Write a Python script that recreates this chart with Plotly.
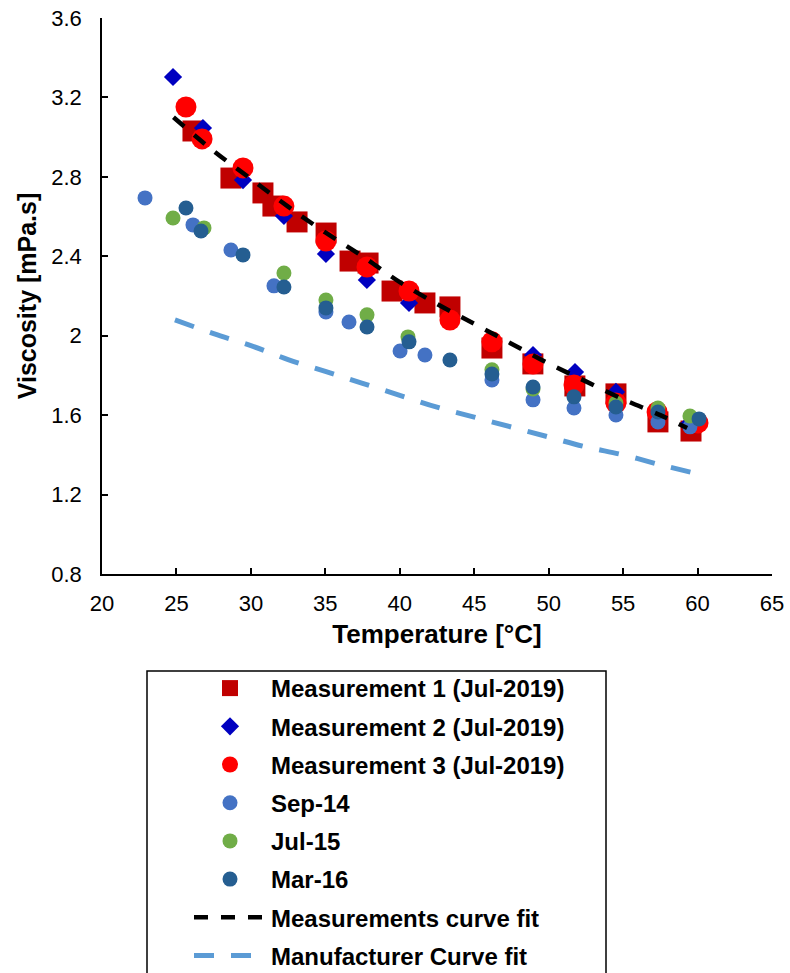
import plotly.graph_objects as go

# ---------------- data ----------------
m1_t = [26.11, 28.66, 30.81, 31.48, 33.10, 35.05, 36.66, 37.87, 39.48, 41.69, 43.37, 46.19, 48.94, 51.76, 54.52, 57.34, 59.56]
m1_v = [3.031, 2.794, 2.719, 2.653, 2.573, 2.517, 2.376, 2.366, 2.225, 2.165, 2.145, 1.938, 1.858, 1.747, 1.707, 1.566, 1.520]

m2_t = [24.77, 26.78, 29.47, 32.22, 35.04, 37.79, 40.62, 48.95, 51.77, 54.52, 59.36]
m2_v = [3.303, 3.046, 2.784, 2.603, 2.412, 2.281, 2.165, 1.903, 1.817, 1.717, 1.551]

m3_t = [25.64, 26.72, 29.47, 32.22, 35.04, 37.80, 40.62, 43.37, 46.19, 48.95, 51.70, 54.52, 57.28, 60.03]
m3_v = [3.152, 2.991, 2.845, 2.653, 2.477, 2.346, 2.225, 2.079, 1.969, 1.858, 1.752, 1.661, 1.616, 1.561]

sep14_t = [22.89, 26.11, 28.66, 31.55, 35.04, 36.59, 40.02, 41.69, 46.19, 48.95, 51.70, 54.52, 57.34, 59.49]
sep14_v = [2.694, 2.558, 2.432, 2.251, 2.120, 2.069, 1.923, 1.903, 1.777, 1.677, 1.636, 1.601, 1.566, 1.541]

jul15_t = [24.77, 26.85, 32.22, 35.04, 37.80, 40.55, 46.19, 48.95, 54.52, 57.34, 59.49]
jul15_v = [2.593, 2.543, 2.316, 2.180, 2.105, 1.994, 1.828, 1.732, 1.661, 1.636, 1.596]

mar16_t = [25.64, 26.65, 29.47, 32.22, 35.04, 37.80, 40.62, 43.37, 46.19, 48.95, 51.70, 54.52, 57.34, 60.10]
mar16_v = [2.643, 2.527, 2.407, 2.245, 2.140, 2.044, 1.969, 1.878, 1.807, 1.742, 1.692, 1.641, 1.616, 1.581]

fit_t = [24.8, 27.5, 30.0, 32.5, 35.0, 37.5, 40.0, 42.5, 45.0, 47.5, 50.0, 52.5, 55.0, 57.5, 59.3]
fit_v = [3.10, 2.93, 2.79, 2.65, 2.52, 2.40, 2.27, 2.16, 2.06, 1.96, 1.86, 1.77, 1.68, 1.60, 1.535]

man_t = [24.9, 27.5, 30.0, 32.5, 35.0, 37.5, 40.0, 42.5, 45.0, 47.5, 50.0, 52.5, 55.0, 57.5, 59.7]
man_v = [2.08, 2.01, 1.95, 1.88, 1.82, 1.76, 1.70, 1.64, 1.59, 1.54, 1.49, 1.44, 1.40, 1.35, 1.31]

x_ticks = [20, 25, 30, 35, 40, 45, 50, 55, 60, 65]
y_ticks = [0.8, 1.2, 1.6, 2.0, 2.4, 2.8, 3.2, 3.6]
y_tick_labels = ["0.8", "1.2", "1.6", "2", "2.4", "2.8", "3.2", "3.6"]

names = ["Measurement 1 (Jul-2019)", "Measurement 2 (Jul-2019)", "Measurement 3 (Jul-2019)",
         "Sep-14", "Jul-15", "Mar-16", "Measurements curve fit", "Manufacturer Curve fit"]

FONT = "Arial, 'Liberation Sans', sans-serif"

fig = go.Figure()

def pts(x, y, name, color, symbol, size, g):
    fig.add_trace(go.Scatter(x=x, y=y, mode="markers", name=name, legendgroup=g,
                             marker=dict(color=color, symbol=symbol, size=size, line=dict(width=0))))

pts(m1_t, m1_v, names[0], "#C00000", "square", 21, "a")
pts(m2_t, m2_v, names[1], "#0000C0", "diamond", 14, "b")
pts(m3_t, m3_v, names[2], "#FF0000", "circle", 21, "c")
pts(sep14_t, sep14_v, names[3], "#4472C4", "circle", 15, "d")
pts(jul15_t, jul15_v, names[4], "#70AD47", "circle", 15, "e")
pts(mar16_t, mar16_v, names[5], "#255E91", "circle", 15, "f")

fig.add_trace(go.Scatter(x=fit_t, y=fit_v, mode="lines", name=names[6], legendgroup="g",
                         line=dict(color="black", width=4.5, dash="14px,13px", shape="spline")))
fig.add_trace(go.Scatter(x=man_t, y=man_v, mode="lines", name=names[7], legendgroup="h",
                         line=dict(color="#5B9BD5", width=5, dash="20px,17px", shape="spline")))

# plot area: x 102..772, y 18..574
L, R, T, B = 102, 18, 18, 399
W, H = 790, 973
pw, ph = W - L - R, H - T - B

def px_x(p):
    return (p - L) / pw

def px_y(p):
    return (H - B - p) / ph

fig.update_layout(
    width=W, height=H,
    margin=dict(l=L, r=R, t=T, b=B, autoexpand=False),
    paper_bgcolor="white", plot_bgcolor="white",
    font=dict(family=FONT, color="black"),
    showlegend=True,
    legend=dict(
        x=px_x(189), y=px_y(666), xanchor="left", yanchor="top",
        font=dict(family=FONT, size=24, color="black", weight="bold"),
        bgcolor="rgba(0,0,0,0)", borderwidth=0,
        itemwidth=72, traceorder="grouped", tracegroupgap=4,
        itemsizing="trace",
    ),
    shapes=[dict(type="rect", xref="paper", yref="paper",
                 x0=px_x(147), x1=px_x(606), y0=px_y(995), y1=px_y(671),
                 line=dict(color="black", width=1.5), fillcolor="rgba(0,0,0,0)", layer="below")],
)

fig.update_xaxes(
    range=[20, 65], tickvals=x_ticks, showgrid=False, zeroline=False,
    showline=True, linecolor="black", linewidth=1.5,
    ticks="inside", ticklen=6, tickcolor="black", tickwidth=1.5,
    tickfont=dict(family=FONT, size=22, color="black"),
    ticklabelstandoff=9,
    title=dict(text="Temperature [°C]", font=dict(family=FONT, size=26, color="black", weight="bold"), standoff=10),
)
fig.update_yaxes(
    range=[0.8, 3.6], tickvals=y_ticks, ticktext=y_tick_labels, showgrid=False, zeroline=False,
    showline=True, linecolor="black", linewidth=1.5,
    ticks="inside", ticklen=6, tickcolor="black", tickwidth=1.5,
    tickfont=dict(family=FONT, size=22, color="black"),
    ticklabelstandoff=14,
    title=dict(text="Viscosity [mPa.s]", font=dict(family=FONT, size=25, color="black", weight="bold"), standoff=8),
)

fig.write_html("out.html")
